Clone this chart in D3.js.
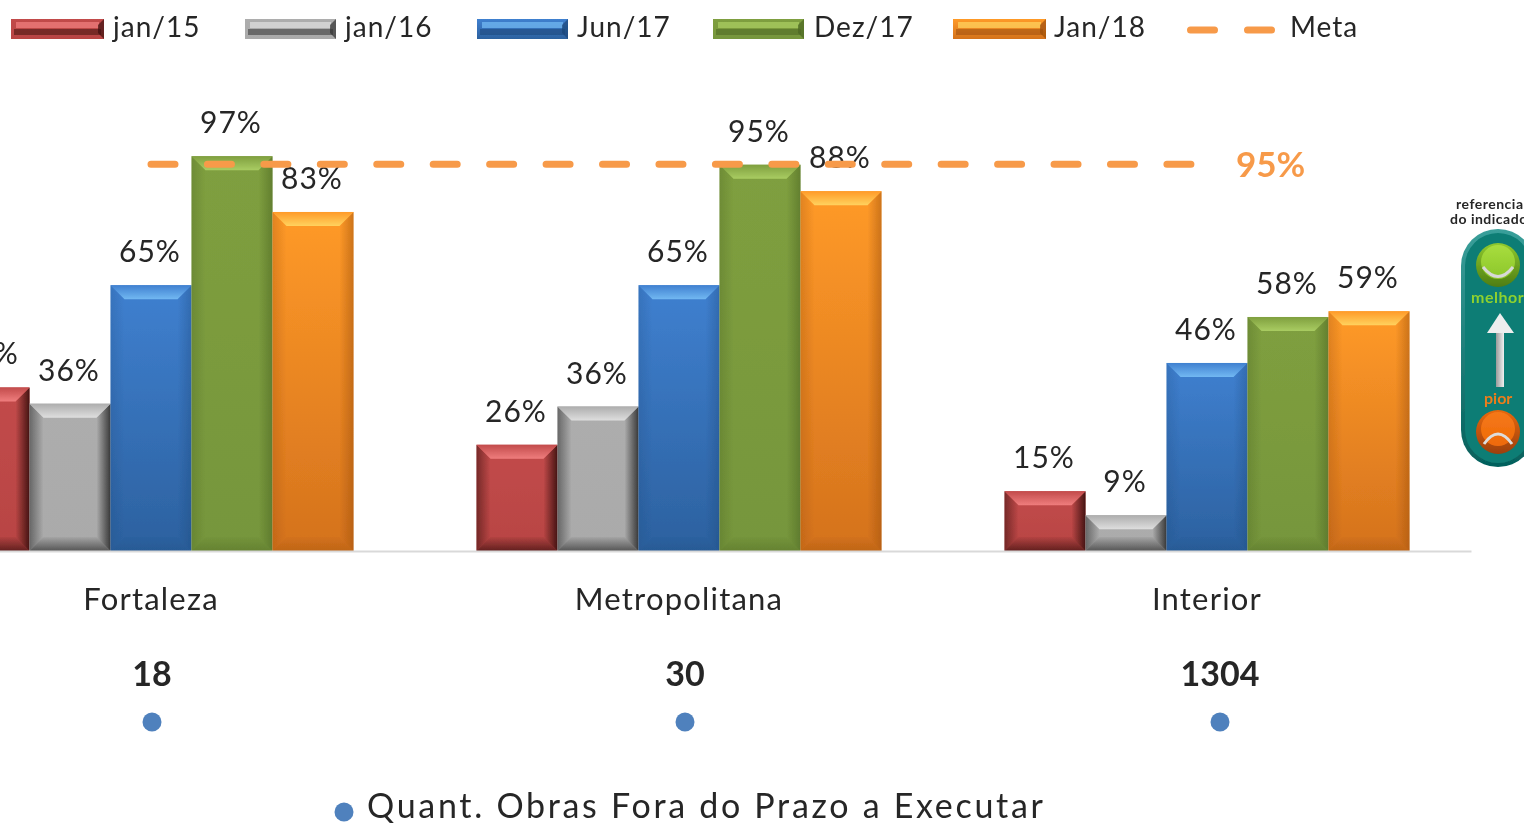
<!DOCTYPE html>
<html>
<head>
<meta charset="utf-8">
<script src="https://cdn.jsdelivr.net/npm/d3@7"></script>
<style>
  body { margin: 0; background: #fff; overflow: hidden; }
  text { font-family: Lato, "Open Sans", sans-serif; fill: #262626; }
</style>
</head>
<body>
<script>
// data
var categories = ["Fortaleza", "Metropolitana", "Interior"];
var seriesNames = ["jan/15", "jan/16", "Jun/17", "Dez/17", "Jan/18"];
var jan15 = [40.2, 26.1, 14.7];
var jan16 = [36.2, 35.5, 8.8];
var jun17 = [65.3, 65.3, 46.2];
var dez17 = [97, 94.9, 57.5];
var jan18 = [83.3, 88.4, 58.9];
var meta = [95, 95, 95];
var metaLabel = "95%";
var obras = [18, 30, 1304];
var obrasLabel = "Quant. Obras Fora do Prazo a Executar";

var seriesValues = [jan15, jan16, jun17, dez17, jan18];

var config = {
  width: 1524, height: 824,
  baseline: 551, yTop: 144,
  bevel: 14
};

// colours: top / bottom of the face, light bevel, dark bevel
var palette = [
  { top: "#c24b4b", bottom: "#b84443", light: "#ef7d7d", dark: "#3f1210", side: 0.95 },
  { top: "#adadad", bottom: "#aaaaaa", light: "#dedede", dark: "#333333", side: 0.95 },
  { top: "#3f80d0", bottom: "#2c619f", light: "#72b8f2", dark: "#1c4678", side: 0.35 },
  { top: "#7f9f3f", bottom: "#76963c", light: "#a9cc62", dark: "#4c6623", side: 0.55 },
  { top: "#ff9a28", bottom: "#d4721d", light: "#ffd25e", dark: "#9c4f0c", side: 0.5 }
];
var metaColor = "#f79a4a";

var svg = d3.select("body").append("svg")
  .attr("width", config.width)
  .attr("height", config.height);

var defs = svg.append("defs");
defs.append("filter").attr("id", "soft")
  .attr("x", "-5%").attr("y", "-5%").attr("width", "110%").attr("height", "110%")
  .append("feGaussianBlur").attr("stdDeviation", 0.55);

function fade(id, x1, y1, x2, y2, from, fromOp, to, toOp) {
  var g = defs.append("linearGradient").attr("id", id)
    .attr("x1", x1).attr("y1", y1).attr("x2", x2).attr("y2", y2);
  g.append("stop").attr("offset", "0%").attr("stop-color", from).attr("stop-opacity", fromOp);
  g.append("stop").attr("offset", "100%").attr("stop-color", to).attr("stop-opacity", toOp);
}

palette.forEach(function(p, i) {
  fade("face" + i, 0, 0, 0, 1, p.top, 1, p.bottom, 1);
  fade("left" + i, 0, 0, 1, 0, p.dark, p.side * 0.6, p.dark, 0);
  fade("right" + i, 1, 0, 0, 0, p.dark, p.side, p.dark, 0);
  fade("bottom" + i, 0, 1, 0, 0, p.dark, p.side * 0.75, p.dark, 0.05);
  fade("topb" + i, 0, 0, 0, 1, p.top, 1, p.light, 1);
});

var root = svg.append("g").attr("filter", "url(#soft)");

// scales
var x0 = d3.scaleBand().domain(categories).range([-113, 1471]);
var x1 = d3.scaleBand().domain(seriesNames).range([0, 405]);
var y = d3.scaleLinear().domain([0, 100]).range([config.baseline, config.yTop]);
var pad = (x0.bandwidth() - x1.range()[1]) / 2;

function pts(a) {
  return a.map(function(p) { return p.join(","); }).join(" ");
}

// bar with bevelled edges
function bevelBar(g, bx, by, w, h, i, b) {
  g.append("rect").attr("x", bx).attr("y", by).attr("width", w).attr("height", h)
    .attr("fill", "url(#face" + i + ")");
  g.append("polygon") // left
    .attr("points", pts([[bx, by], [bx + b, by + b], [bx + b, by + h - b], [bx, by + h]]))
    .attr("fill", "url(#left" + i + ")");
  g.append("polygon") // right
    .attr("points", pts([[bx + w, by], [bx + w - b, by + b], [bx + w - b, by + h - b], [bx + w, by + h]]))
    .attr("fill", "url(#right" + i + ")");
  g.append("polygon") // bottom
    .attr("points", pts([[bx, by + h], [bx + b, by + h - b], [bx + w - b, by + h - b], [bx + w, by + h]]))
    .attr("fill", "url(#bottom" + i + ")");
  g.append("polygon") // top
    .attr("points", pts([[bx, by], [bx + w, by], [bx + w - b, by + b], [bx + b, by + b]]))
    .attr("fill", "url(#topb" + i + ")");
}

// bars
var groups = root.selectAll("g.cat")
  .data(categories)
  .enter().append("g")
  .attr("class", "cat")
  .attr("transform", function(d) { return "translate(" + (x0(d) + pad) + ",0)"; });

groups.each(function(cat, c) {
  var g = d3.select(this);
  seriesNames.forEach(function(name, i) {
    var v = seriesValues[i][c];
    var h = y(0) - y(v);
    bevelBar(g, x1(name), y(v), x1.bandwidth(), h, i, Math.min(config.bevel, h / 2));
  });
});

// x axis: baseline and category names
var axis = root.append("g")
  .attr("transform", "translate(0," + config.baseline + ")")
  .call(d3.axisBottom(x0).tickSize(0).tickPadding(37));
axis.select(".domain").attr("stroke", "#d9d9d9").attr("stroke-width", 2);
axis.selectAll("text")
  .style("font-family", "Lato, sans-serif")
  .style("font-size", "31px")
  .style("letter-spacing", "1.2px")
  .attr("fill", "#262626");

// meta line
var metaLine = d3.line()
  .x(function(d, i) { return x0(categories[i]) + x0.bandwidth() / 2; })
  .y(function(d) { return y(d); });

root.append("path")
  .datum(meta)
  .attr("d", metaLine)
  .attr("fill", "none")
  .attr("stroke", metaColor)
  .attr("stroke-width", 7)
  .attr("stroke-linecap", "round")
  .attr("stroke-dasharray", "24 32.44");

root.append("text")
  .attr("x", x0(categories[2]) + x0.bandwidth() / 2 + 29)
  .attr("y", y(meta[2]))
  .attr("dy", "0.36em")
  .attr("font-size", 35)
  .attr("font-weight", 700)
  .style("fill", metaColor)
  .text(metaLabel);

// data labels
groups.each(function(cat, c) {
  var g = d3.select(this);
  seriesNames.forEach(function(name, i) {
    var v = seriesValues[i][c];
    g.append("text")
      .attr("x", x1(name) + x1.bandwidth() / 2 - 1)
      .attr("y", y(v) - 23)
      .attr("text-anchor", "middle")
      .attr("font-size", 30)
      .style("letter-spacing", "1px")
      .text(Math.round(v) + "%");
  });
});

// quantity row
var qty = root.selectAll("g.qty")
  .data(obras)
  .enter().append("g")
  .attr("class", "qty")
  .attr("transform", function(d, i) {
    return "translate(" + (x0(categories[i]) + x0.bandwidth() / 2 + [1, 6, 13][i]) + ",0)";
  });
qty.append("text")
  .attr("y", 686)
  .attr("text-anchor", "middle")
  .attr("font-size", 34)
  .attr("font-weight", 700)
  .text(function(d) { return d; });
qty.append("circle")
  .attr("cy", 722).attr("r", 9.5)
  .attr("fill", "#4f81bd");

// bottom legend
root.append("circle").attr("cx", 344).attr("cy", 812).attr("r", 9.5).attr("fill", "#4f81bd");
root.append("text")
  .attr("x", 367).attr("y", 818)
  .attr("font-size", 34)
  .attr("textLength", 676)
  .text(obrasLabel);

// top legend
var legendX = [11, 245, 477, 713, 953];
var legendW = [93, 91, 91, 91, 93];
var legendTextX = [113, 345, 577, 814, 1054];
seriesNames.forEach(function(name, i) {
  var p = palette[i], g = root.append("g");
  var lx = legendX[i], lw = legendW[i];
  g.append("rect").attr("x", lx).attr("y", 19).attr("width", lw).attr("height", 20)
    .attr("fill", "url(#face" + i + ")");
  g.append("rect").attr("x", lx + 5).attr("y", 22).attr("width", lw - 10).attr("height", 6)
    .attr("fill", p.light).attr("opacity", 0.75);
  g.append("rect").attr("x", lx + 3).attr("y", 29).attr("width", lw - 6).attr("height", 6)
    .attr("fill", p.dark).attr("opacity", 0.55);
  g.append("polygon")
    .attr("points", pts([[lx + lw, 19], [lx + lw, 39], [lx + lw - 6, 33], [lx + lw - 6, 25]]))
    .attr("fill", p.dark).attr("opacity", 0.7);
  root.append("text")
    .attr("x", legendTextX[i]).attr("y", 37)
    .attr("font-size", 28)
    .style("letter-spacing", "1px")
    .text(name);
});
root.append("line")
  .attr("x1", 1190.5).attr("x2", 1272).attr("y1", 30).attr("y2", 30)
  .attr("stroke", metaColor).attr("stroke-width", 7)
  .attr("stroke-linecap", "round")
  .attr("stroke-dasharray", "24 33");
root.append("text")
  .attr("x", 1290).attr("y", 37)
  .attr("font-size", 28)
  .style("letter-spacing", "1px")
  .text("Meta");

// reference badge on the right, cut by the page edge
var badge = root.append("g");
badge.append("text").attr("x", 1456).attr("y", 209).attr("font-size", 14).attr("font-weight", 700)
  .style("letter-spacing", "0.5px").text("referencia");
badge.append("text").attr("x", 1450).attr("y", 224).attr("font-size", 14).attr("font-weight", 700)
  .style("letter-spacing", "0.5px").text("do indicador");

fade("pillRim", 0, 0, 0, 1, "#3a9f9a", 1, "#05605c", 1);
fade("greenBall", 0, 0, 0, 1, "#a8dd3e", 1, "#8cc62a", 1);
fade("greenRim", 0, 0, 0, 1, "#8fc92e", 1, "#4d7d12", 1);
fade("orangeBall", 0, 0, 0, 1, "#f5781a", 1, "#ee6a08", 1);
fade("orangeRim", 0, 0, 0, 1, "#e8680c", 1, "#9c3f08", 1);
fade("arrowShaft", 0, 0, 1, 0, "#9a9a9a", 1, "#f0f0f0", 1);

badge.append("rect")
  .attr("x", 1461).attr("y", 229).attr("width", 74).attr("height", 238).attr("rx", 37)
  .attr("fill", "url(#pillRim)");
badge.append("rect")
  .attr("x", 1465).attr("y", 233).attr("width", 66).attr("height", 230).attr("rx", 33)
  .attr("fill", "#0a7d74");

badge.append("circle").attr("cx", 1498).attr("cy", 265).attr("r", 22).attr("fill", "url(#greenRim)");
badge.append("circle").attr("cx", 1498).attr("cy", 262).attr("r", 17).attr("fill", "url(#greenBall)");
badge.append("path").attr("d", "M1483,267 Q1498,286 1513,267")
  .attr("fill", "none").attr("stroke", "#d8d8d8").attr("stroke-width", 3);
badge.append("text").attr("x", 1471).attr("y", 303).attr("font-size", 16).attr("font-weight", 700)
  .style("letter-spacing", "0.5px")
  .style("fill", "#8fd12f").text("melhor");

badge.append("polygon")
  .attr("points", pts([[1500, 313], [1514, 333], [1487, 333]]))
  .attr("fill", "#eeeeee");
badge.append("rect").attr("x", 1496).attr("y", 333).attr("width", 8).attr("height", 54).attr("fill", "url(#arrowShaft)");
badge.append("text").attr("x", 1484).attr("y", 404).attr("font-size", 16).attr("font-weight", 700)
  .style("fill", "#ee7d1a").text("pior");

badge.append("circle").attr("cx", 1498).attr("cy", 432).attr("r", 22).attr("fill", "url(#orangeRim)");
badge.append("circle").attr("cx", 1498).attr("cy", 429).attr("r", 17).attr("fill", "url(#orangeBall)");
badge.append("path").attr("d", "M1484,444 Q1498,424 1512,444")
  .attr("fill", "none").attr("stroke", "#dddddd").attr("stroke-width", 3);
</script>
</body>
</html>
